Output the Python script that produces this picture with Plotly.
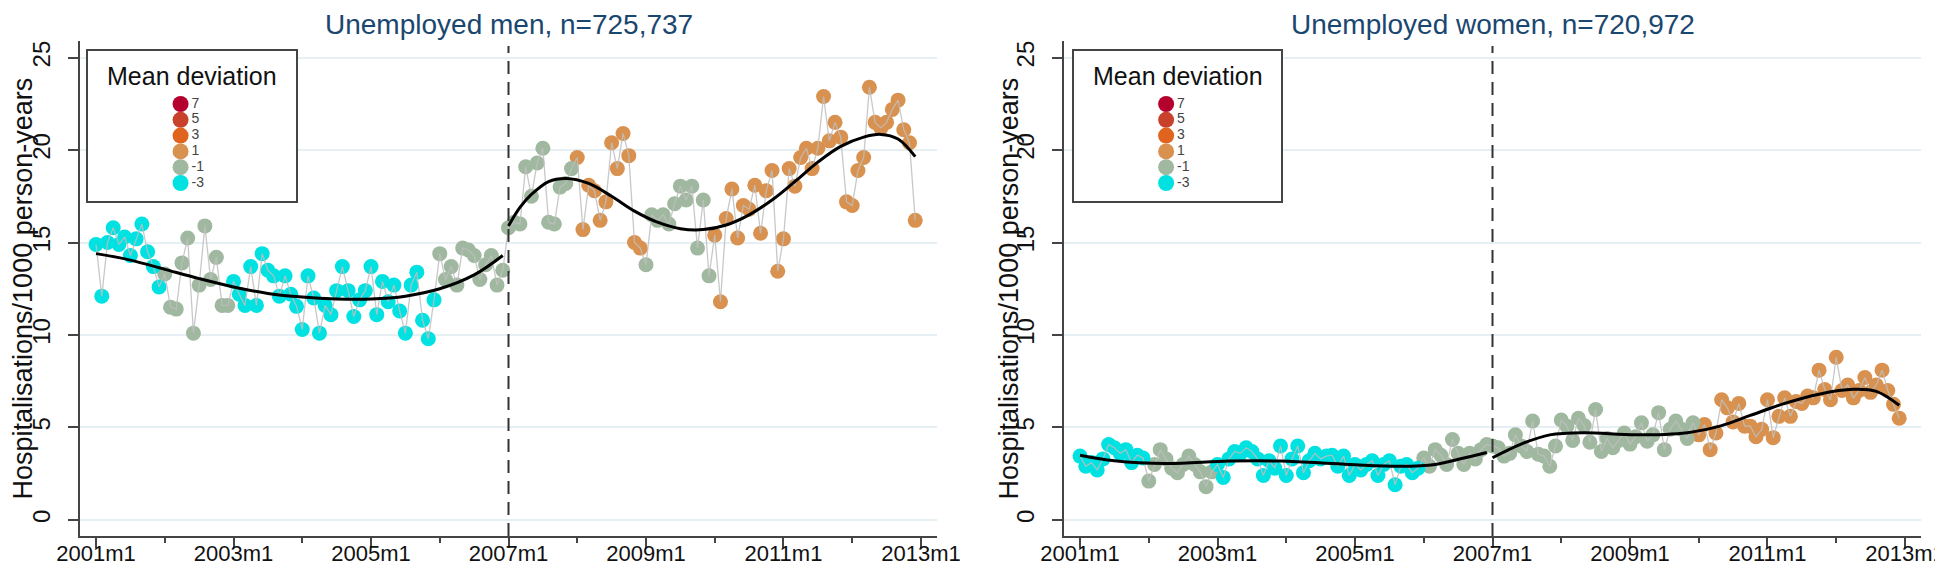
import plotly.graph_objects as go

# ---------------- data ----------------
YEARS = list(range(2001, 2013))
TICK_VALS = [0, 24, 48, 72, 96, 120, 144]
TICK_TEXT = ["2001m1", "2003m1", "2005m1", "2007m1", "2009m1", "2011m1", "2013m1"]
MINOR_TICK_VALS = [12, 36, 60, 84, 108, 132]
INTERVENTION_MONTH = 72  # 2007m1

LEVELS = [7, 5, 3, 1, -1, -3]
LEVEL_COLORS = ["#B5002E", "#C8412A", "#E0641E", "#D8914F", "#A0B8A0", "#00E1E1"]

# monthly hospitalisation rate per 1000 person-years, 2001m1 .. 2012m12
MEN_RATE = [
    14.9, 12.1, 15.0, 15.8, 14.9, 15.3, 14.3, 15.2, 16.0, 14.5, 13.7, 12.6,
    13.3, 11.5, 11.4, 13.9, 15.25, 10.1, 12.7, 15.9, 13.0, 14.2, 11.6, 11.6,
    12.9, 12.2, 11.6, 13.7, 11.6, 14.4, 13.5, 13.2, 12.1, 13.2, 12.2, 11.55,
    10.3, 13.2, 12.0, 10.1, 11.6, 11.1, 12.4, 13.7, 12.4, 11.0, 11.9, 12.4,
    13.7, 11.1, 12.9, 11.8, 12.7, 11.3, 10.1, 12.7, 13.4, 10.8, 9.8, 11.9,
    14.4, 13.0, 13.7, 12.7, 14.7, 14.6, 14.3, 13.0, 13.8, 14.3, 12.7, 13.5,
    15.8, 16.1, 16.0, 19.1, 17.5, 19.3, 20.1, 16.1, 16.0, 18.0, 18.2, 19.0,
    19.6, 15.7, 18.1, 17.8, 16.2, 17.2, 20.4, 19.0, 20.9, 19.7, 15.0, 14.7,
    13.8, 16.5, 16.2, 16.5, 16.0, 17.1, 18.05, 17.3, 18.05, 14.7, 17.3, 13.2,
    15.4, 11.8, 16.3, 17.9, 15.25, 17.0, 16.8, 18.1, 15.5, 17.8, 18.9, 13.45,
    15.2, 19.0, 18.05, 19.6, 20.1, 19.0, 20.1, 22.9, 20.5, 21.5, 20.7, 17.2,
    17.0, 18.9, 19.6, 23.4, 21.5, 21.2, 21.5, 22.2, 22.7, 21.1, 20.4, 16.2,
]
WOMEN_RATE = [
    3.45, 2.9, 3.1, 2.7, 3.3, 4.08, 3.9, 3.6, 3.8, 3.1, 3.5, 3.35,
    2.1, 3.0, 3.8, 3.3, 2.8, 2.55, 3.0, 3.45, 3.0, 2.6, 1.8, 2.6,
    3.0, 2.3, 3.3, 3.7, 3.6, 3.9, 3.7, 3.3, 2.4, 3.2, 2.8, 4.0,
    2.4, 3.3, 4.0, 2.55, 3.2, 3.6, 3.3, 3.45, 3.5, 2.9, 3.45, 2.4,
    3.0, 2.7, 3.0, 3.2, 2.4, 3.0, 3.2, 1.9, 2.9, 3.0, 2.55, 2.8,
    3.35, 2.9, 3.8, 3.5, 3.0, 4.35, 3.6, 3.0, 3.6, 3.3, 3.8, 4.08,
    4.0, 3.9, 3.45, 3.6, 4.6, 4.0, 3.7, 5.35, 3.55, 3.45, 2.9, 4.0,
    5.4, 5.07, 4.3, 5.5, 5.1, 4.2, 5.97, 3.7, 4.4, 3.9, 4.3, 4.7,
    4.1, 4.5, 5.25, 4.26, 4.6, 5.8, 3.8, 4.9, 5.35, 4.9, 4.4, 5.25,
    4.6, 5.16, 3.8, 4.7, 6.5, 6.06, 5.3, 6.3, 5.07, 5.07, 4.5, 4.9,
    6.5, 4.45, 5.6, 6.6, 5.6, 6.4, 6.3, 6.7, 6.6, 8.1, 7.05, 6.5,
    8.8, 7.0, 7.3, 6.6, 7.0, 7.7, 6.9, 7.3, 8.1, 7.0, 6.25, 5.5,
]
# mean deviation category of each calendar year
MEN_YEAR_DEV = [-3, -1, -3, -3, -3, -1, -1, 1, -1, 1, 1, 1]
WOMEN_YEAR_DEV = [-3, -1, -3, -3, -3, -1, -1, -1, -1, 1, 1, 1]

# fitted trend, pre and post 2007m1
MEN_FIT_PRE_M = [0, 6, 12, 18, 24, 30, 36, 42, 48, 54, 60, 66, 71]
MEN_FIT_PRE = [14.4, 14.05, 13.55, 13.05, 12.6, 12.25, 12.05, 11.95, 11.95, 12.1, 12.5, 13.25, 14.3]
MEN_FIT_POST_M = [72, 74, 76, 79, 82, 86, 90, 94, 98, 102, 106, 110, 114, 118, 122, 126, 130, 134, 137, 140, 143]
MEN_FIT_POST = [15.9, 16.9, 17.6, 18.3, 18.47, 18.2, 17.5, 16.7, 16.1, 15.75, 15.7, 15.95, 16.5, 17.3, 18.3,
                19.35, 20.2, 20.7, 20.85, 20.6, 19.65]
WOMEN_FIT_PRE_M = [0, 6, 15, 26, 35, 47, 56, 62, 67, 71]
WOMEN_FIT_PRE = [3.5, 3.2, 3.05, 3.18, 3.18, 3.0, 2.9, 3.0, 3.35, 3.65]
WOMEN_FIT_POST_M = [72, 77, 82, 88, 97, 106, 112, 117, 123, 129, 135, 139, 143]
WOMEN_FIT_POST = [3.36, 4.1, 4.6, 4.72, 4.6, 4.72, 5.1, 5.65, 6.3, 6.8, 7.06, 6.95, 6.2]

TITLES = ["Unemployed men, n=725,737", "Unemployed women, n=720,972"]
Y_TITLE = "Hospitalisations/1000 person-years"
LEGEND_TITLE = "Mean deviation"

# ---------------- figure ----------------
W, H = 1943, 572
FONT = "Liberation Sans, Arial, sans-serif"
MONTHS = [(y - YEARS[0]) * 12 + m for y in YEARS for m in range(12)]

fig = go.Figure()

panels = [
    dict(rate=MEN_RATE, dev=MEN_YEAR_DEV,
         fits=[(MEN_FIT_PRE_M, MEN_FIT_PRE), (MEN_FIT_POST_M, MEN_FIT_POST)],
         xa="x", ya="y", px=(72, 929), legx=(80, 288), ytitle_x=14),
    dict(rate=WOMEN_RATE, dev=WOMEN_YEAR_DEV,
         fits=[(WOMEN_FIT_PRE_M, WOMEN_FIT_PRE), (WOMEN_FIT_POST_M, WOMEN_FIT_POST)],
         xa="x2", ya="y2", px=(1056, 1913), legx=(1066, 1273), ytitle_x=1000),
]

PLOT_TOP, PLOT_BOT = 33, 528
LEG_TOP, LEG_BOT = 43, 193

for p_i, p in enumerate(panels):
    cats = [p["dev"][m // 12] for m in MONTHS]
    # markers per category
    for lev, col in zip(LEVELS, LEVEL_COLORS):
        xs = [m for m, c in zip(MONTHS, cats) if c == lev]
        ys = [v for v, c in zip(p["rate"], cats) if c == lev]
        if not xs:
            continue
        fig.add_trace(go.Scatter(x=xs, y=ys, mode="markers", xaxis=p["xa"], yaxis=p["ya"],
                                 marker=dict(size=15, color=col, line=dict(width=0)),
                                 showlegend=False, name=str(lev)))
    # connecting line
    fig.add_trace(go.Scatter(x=MONTHS, y=p["rate"], mode="lines", xaxis=p["xa"], yaxis=p["ya"],
                             line=dict(color="rgba(190,190,190,0.85)", width=1.3),
                             showlegend=False, hoverinfo="skip"))
    # fitted trend
    for fm, fv in p["fits"]:
        fig.add_trace(go.Scatter(x=fm, y=fv, mode="lines", xaxis=p["xa"], yaxis=p["ya"],
                                 line=dict(color="black", width=3, shape="spline", smoothing=1.0),
                                 showlegend=False, hoverinfo="skip"))

    # manual legend on its own small axis
    lxa = "x%d" % (3 + p_i)
    lya = "y%d" % (3 + p_i)
    box_w = p["legx"][1] - p["legx"][0]
    box_h = LEG_BOT - LEG_TOP
    step = 15.8
    ly = [53 + k * step for k in range(len(LEVELS))]
    fig.add_trace(go.Scatter(x=[box_w * 0.445] * len(LEVELS), y=ly, mode="markers+text",
                             xaxis=lxa, yaxis=lya, text=[str(l) for l in LEVELS],
                             textposition="middle right",
                             textfont=dict(family=FONT, size=14, color="#444"),
                             marker=dict(size=16, color=LEVEL_COLORS),
                             showlegend=False, hoverinfo="skip", cliponaxis=False))
    fig.add_annotation(xref=lxa + " domain", yref=lya + " domain", x=0.5, y=1 - 25 / box_h,
                       text=LEGEND_TITLE, showarrow=False, xanchor="center", yanchor="middle",
                       font=dict(family=FONT, size=25, color="#111"))

    dom_x = [p["px"][0] / W, p["px"][1] / W]
    dom_y = [(H - PLOT_BOT) / H, (H - PLOT_TOP) / H]
    suffix = "" if p_i == 0 else "2"
    fig.layout["xaxis" + suffix] = dict(
        domain=dom_x, anchor=p["ya"], range=[-2.8, 146.8], automargin=False,
        tickmode="array", tickvals=TICK_VALS, ticktext=TICK_TEXT,
        ticks="outside", ticklen=10, tickwidth=1.5, tickcolor="#444",
        minor=dict(tickmode="array", tickvals=MINOR_TICK_VALS, ticks="outside",
                   ticklen=5, tickwidth=1.5, tickcolor="#444", showgrid=False),
        showgrid=False, zeroline=False, showline=True, linecolor="#444", linewidth=1.5,
        tickfont=dict(family=FONT, size=22, color="#111"), ticklabelstandoff=-13)
    fig.layout["yaxis" + suffix] = dict(
        domain=dom_y, anchor=p["xa"], range=[-0.87, 25.9], automargin=False,
        tickmode="array", tickvals=[0, 5, 10, 15, 20, 25],
        ticks="outside", ticklen=10, tickwidth=1.5, tickcolor="#444", tickangle=-90,
        showgrid=True, gridcolor="#E6EFF3", gridwidth=1.5, zeroline=False,
        showline=True, linecolor="#444", linewidth=1.5,
        tickfont=dict(family=FONT, size=24, color="#111"), ticklabelstandoff=9)
    fig.layout["xaxis%d" % (3 + p_i)] = dict(
        domain=[p["legx"][0] / W, p["legx"][1] / W], anchor=lya, range=[0, box_w],
        automargin=False,
        showgrid=False, zeroline=False, showticklabels=False, ticks="",
        showline=True, mirror=True, linecolor="#444", linewidth=2, fixedrange=True)
    fig.layout["yaxis%d" % (3 + p_i)] = dict(
        domain=[(H - LEG_BOT) / H, (H - LEG_TOP) / H], anchor=lxa, range=[box_h, 0],
        automargin=False,
        showgrid=False, zeroline=False, showticklabels=False, ticks="",
        showline=True, mirror=True, linecolor="#444", linewidth=2, fixedrange=True)

    # intervention line
    fig.add_shape(type="line", xref=p["xa"], yref=p["ya"] + " domain",
                  x0=INTERVENTION_MONTH, x1=INTERVENTION_MONTH, y0=0, y1=0.99,
                  line=dict(color="#333", width=2, dash="13px,8px"))
    # panel title
    fig.add_annotation(xref=p["xa"] + " domain", yref="paper", x=0.5, y=1 - 17 / H,
                       text=TITLES[p_i], showarrow=False, xanchor="center", yanchor="middle",
                       font=dict(family=FONT, size=28, color="#1a476f"))
    # y-axis title
    fig.add_annotation(xref="paper", yref="paper", x=p["ytitle_x"] / W,
                       y=1 - (PLOT_TOP + PLOT_BOT) / 2 / H, textangle=-90,
                       text=Y_TITLE, showarrow=False, xanchor="center", yanchor="middle",
                       font=dict(family=FONT, size=27, color="#111"))

fig.update_layout(width=W, height=H, margin=dict(l=0, r=0, t=0, b=0, autoexpand=False),
                  paper_bgcolor="white", plot_bgcolor="white", showlegend=False,
                  font=dict(family=FONT))

fig.write_html("out.html")
